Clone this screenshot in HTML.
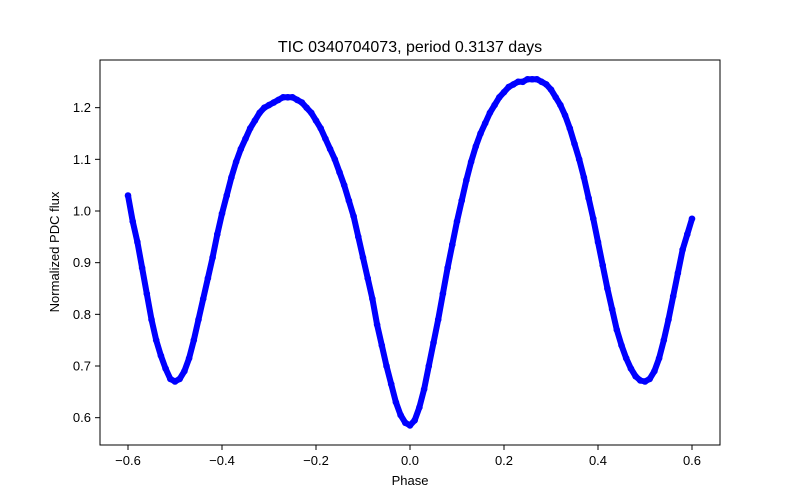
<!DOCTYPE html>
<html>
<head>
<meta charset="utf-8">
<style>
html,body{margin:0;padding:0;background:#fff;}
svg{display:block;font-family:"Liberation Sans","DejaVu Sans",sans-serif;}
</style>
</head>
<body>
<svg id="chart" width="800" height="500">
  <rect x="0" y="0" width="800" height="500" fill="#fff"/>
  <text x="410" y="52" text-anchor="middle" font-size="16" fill="#000">TIC 0340704073, period 0.3137 days</text>
  <g id="marks"></g>
  <g id="axes"></g>
  <rect x="100" y="60" width="620" height="385" fill="none" stroke="#000" stroke-width="1"/>
  <text x="410" y="485" text-anchor="middle" font-size="13" fill="#000">Phase</text>
  <text x="0" y="0" transform="translate(59,252) rotate(-90)" text-anchor="middle" font-size="13" fill="#000">Normalized PDC flux</text>
</svg>
<script>
const phaseStart = -0.6;
const phaseStep = 0.01;
const fluxValues = [
1.03,0.98,0.94,0.89,0.84,0.79,0.75,0.72,0.695,0.675,0.67,
0.675,0.69,0.715,0.75,0.79,0.83,0.87,0.91,0.955,0.995,
1.03,1.065,1.095,1.12,1.14,1.16,1.175,1.19,1.20,1.205,
1.21,1.215,1.22,1.22,1.22,1.215,1.21,1.20,1.19,1.175,
1.16,1.14,1.12,1.10,1.075,1.05,1.02,0.99,0.95,0.91,
0.87,0.83,0.78,0.74,0.70,0.665,0.63,0.605,0.59,0.585,
0.595,0.62,0.655,0.70,0.745,0.79,0.84,0.89,0.935,0.98,
1.02,1.06,1.095,1.125,1.15,1.17,1.19,1.205,1.22,1.23,
1.24,1.245,1.25,1.25,1.255,1.255,1.255,1.25,1.245,1.235,
1.22,1.205,1.185,1.16,1.13,1.10,1.065,1.025,0.985,0.94,
0.895,0.85,0.81,0.77,0.74,0.715,0.695,0.68,0.672,0.67,
0.675,0.69,0.715,0.75,0.79,0.835,0.88,0.925,0.955,0.985
];
const xTicks = [-0.6,-0.4,-0.2,0.0,0.2,0.4,0.6];
const xTickLabels = ["\u22120.6","\u22120.4","\u22120.2","0.0","0.2","0.4","0.6"];
const yTicks = [0.6,0.7,0.8,0.9,1.0,1.1,1.2];
const yTickLabels = ["0.6","0.7","0.8","0.9","1.0","1.1","1.2"];

function xScale(v){ return 410 + v*470; }
function yScale(v){ return 211 - (v-1.0)*516.7; }

const NS = "http://www.w3.org/2000/svg";
const marks = document.getElementById('marks');
const axes = document.getElementById('axes');

let pts = fluxValues.map((f,i)=>[xScale(phaseStart+i*phaseStep), yScale(f)]);
const line = document.createElementNS(NS,'polyline');
line.setAttribute('points', pts.map(p=>p[0].toFixed(1)+','+p[1].toFixed(1)).join(' '));
line.setAttribute('fill','none');
line.setAttribute('stroke','#0000ff');
line.setAttribute('stroke-width','6');
line.setAttribute('stroke-linejoin','round');


marks.appendChild(line);
pts.forEach(p=>{
  const c = document.createElementNS(NS,'circle');
  c.setAttribute('cx',p[0]); c.setAttribute('cy',p[1]); c.setAttribute('r','3.3');
  c.setAttribute('fill','#0000ff');
  
  
  marks.appendChild(c);
});

xTicks.forEach((t,i)=>{
  const x = xScale(t);
  const l = document.createElementNS(NS,'line');
  l.setAttribute('x1',x); l.setAttribute('x2',x); l.setAttribute('y1',445); l.setAttribute('y2',450);
  l.setAttribute('stroke','#000');
  
  
  axes.appendChild(l);
  const tx = document.createElementNS(NS,'text');
  tx.setAttribute('x',x); tx.setAttribute('y',465); tx.setAttribute('text-anchor','middle');
  tx.setAttribute('font-size','13');
  tx.textContent = xTickLabels[i];
  
  
  axes.appendChild(tx);
});
yTicks.forEach((t,i)=>{
  const y = yScale(t);
  const l = document.createElementNS(NS,'line');
  l.setAttribute('x1',95); l.setAttribute('x2',100); l.setAttribute('y1',y); l.setAttribute('y2',y);
  l.setAttribute('stroke','#000');
  
  
  axes.appendChild(l);
  const tx = document.createElementNS(NS,'text');
  tx.setAttribute('x',91); tx.setAttribute('y',y+4.5); tx.setAttribute('text-anchor','end');
  tx.setAttribute('font-size','13');
  tx.textContent = yTickLabels[i];
  
  
  axes.appendChild(tx);
});
</script>
</body>
</html>
